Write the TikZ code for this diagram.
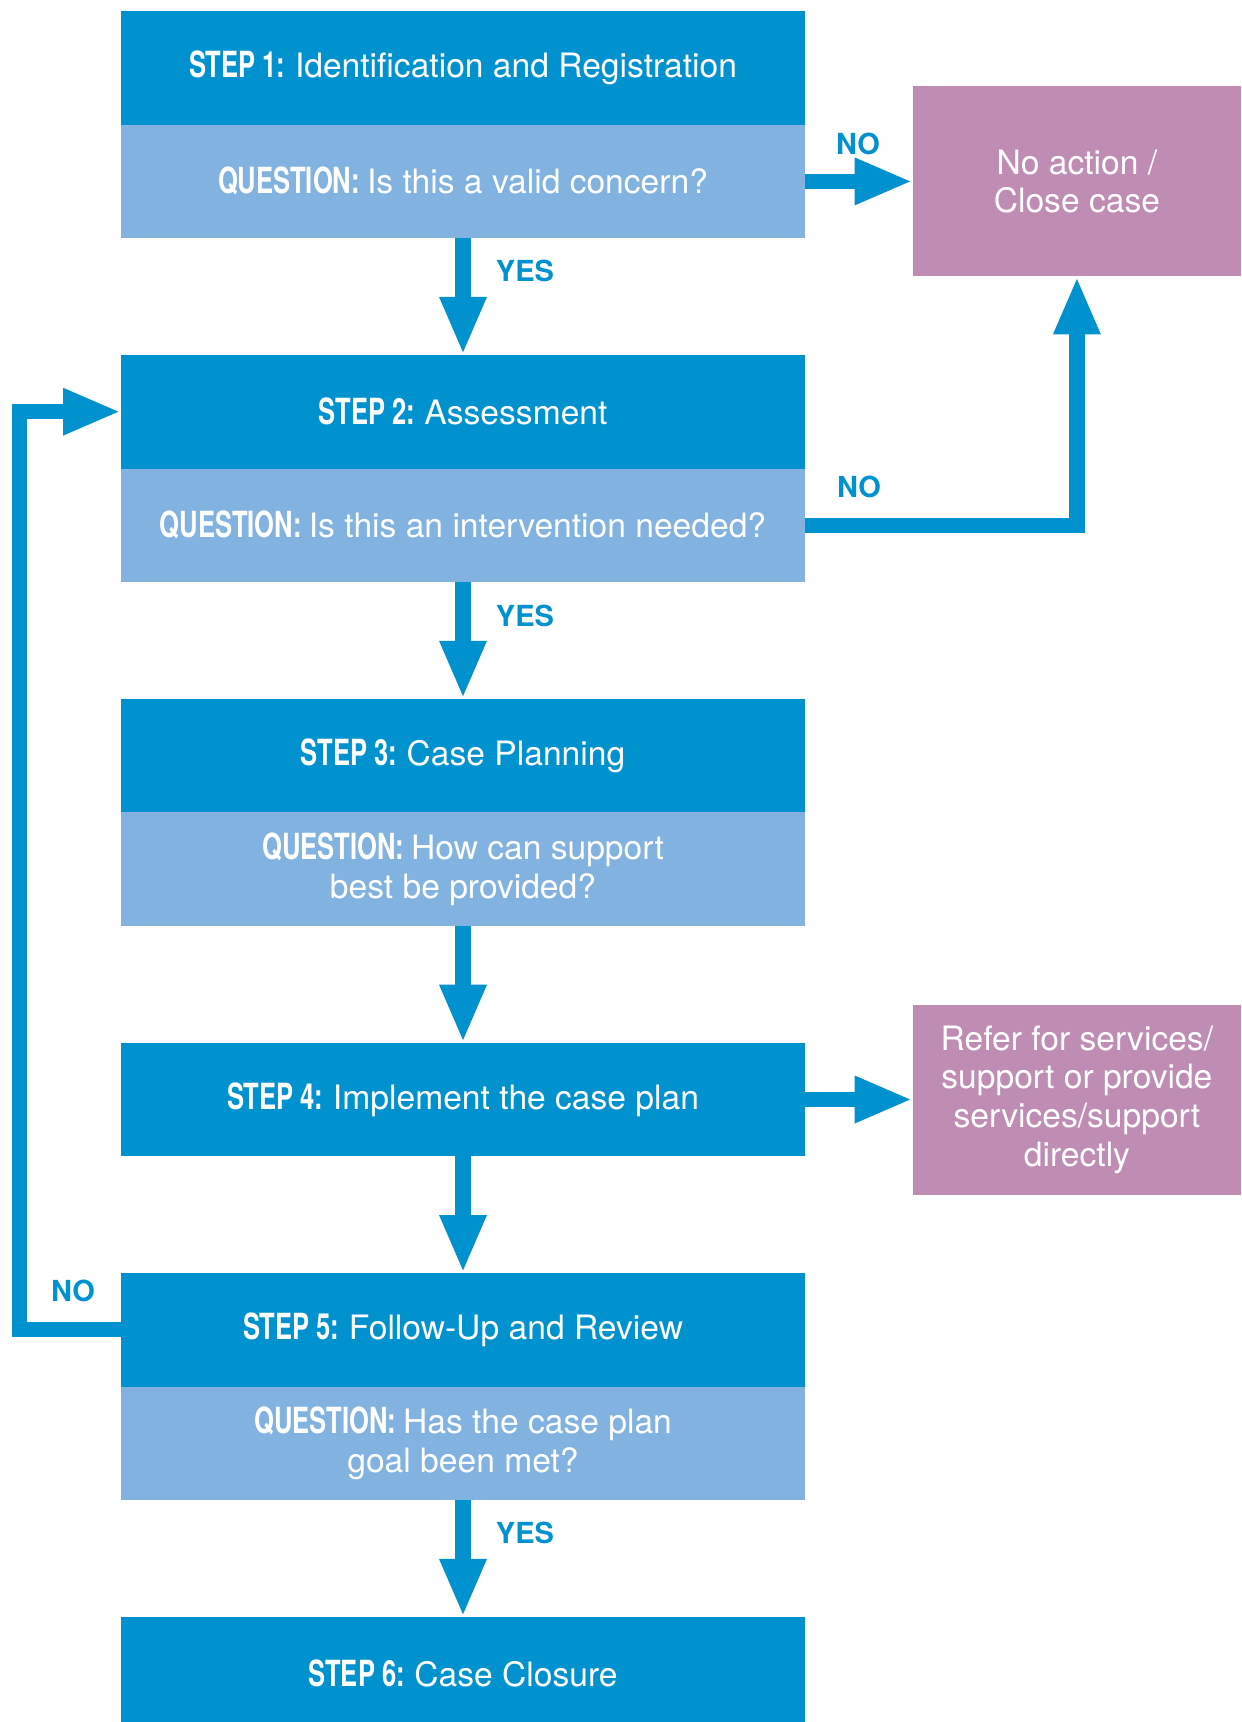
\documentclass[tikz,border=0pt]{standalone}
\usepackage{fontspec}
\setmainfont{TeX Gyre Heros}
\newfontfamily\condfont[FakeStretch=0.71]{TeX Gyre Heros}
\usepackage{tikz}
\usetikzlibrary{calc}
\usetikzlibrary{positioning, arrows.meta}
\definecolor{stepblue}{HTML}{0091CF}
\definecolor{qblue}{HTML}{82B2E0}
\definecolor{casepurple}{HTML}{BF8DB3}
\newcommand{\steplabel}[1]{{\condfont\bfseries\fontsize{18pt}{19.3pt}\selectfont #1 }}
\tikzstyle{stepbox} = [rectangle, 
minimum width=342pt, 
minimum height=56.8pt, 
inner sep=0pt, 
outer sep=0pt, 
align=center, 
text=white, 
fill=stepblue, 
font=\fontsize{16.8pt}{19.3pt}\selectfont]
\tikzstyle{questionbox} = [stepbox, fill=qblue]
\tikzstyle{outcomebox} = [rectangle, 
minimum width=164.2pt, 
minimum height=95pt, 
inner sep=0pt, 
outer sep=0pt, 
align=center, 
text=white, 
fill=casepurple, 
font=\fontsize{16.8pt}{19.3pt}\selectfont]
\tikzstyle{arrow} = [line width=7.6pt, draw=stepblue, -{Triangle[length=29pt, width=21.5pt]}]
\tikzstyle{answer} = [text=stepblue, inner sep=0pt, font=\bfseries\fontsize{14.5pt}{16pt}\selectfont]

\begin{document}
\begin{tikzpicture}[x=0.5pt, y=-0.5pt, node distance=58.35pt]
    \useasboundingbox (0,0) rectangle (1241,1722);

    \node (s1) [stepbox] at (463,67.8) {\steplabel{STEP 1:}Identification and Registration};
    \node (q1) [questionbox, below=0pt of s1] {\steplabel{QUESTION:}Is this a valid concern?};
    \node (s2) [stepbox, below=of q1] {\steplabel{STEP 2:}Assessment};
    \node (q2) [questionbox, below=0pt of s2] {\steplabel{QUESTION:}Is this an intervention needed?};
    \node (s3) [stepbox, below=of q2] {\steplabel{STEP 3:}Case Planning};
    \node (q3) [questionbox, below=0pt of s3] {\steplabel{QUESTION:}How can support\\best be provided?};
    \node (s4) [stepbox, below=of q3] {\steplabel{STEP 4:}Implement the case plan};
    \node (s5) [stepbox, below=of s4] {\steplabel{STEP 5:}Follow-Up and Review};
    \node (q5) [questionbox, below=0pt of s5] {\steplabel{QUESTION:}Has the case plan\\goal been met?};
    \node (s6) [stepbox, below=of q5] {\steplabel{STEP 6:}Case Closure};

    \node (close) [outcomebox, right=53.85pt of q1] {No action /\\Close case};
    \node (refer) [outcomebox, right=53.85pt of s4] {Refer for services/\\support or provide\\services/support\\directly};

    % Main flow
    \draw [arrow] (q1) -- (s2);
    \draw [arrow] (q2) -- (s3);
    \draw [arrow] (q3) -- (s4);
    \draw [arrow] (s4) -- (s5);
    \draw [arrow] (q5) -- (s6);

    % Side exits
    \draw [arrow] (q1.east) -- (close.west);
    \draw [arrow] (q2.east) -| (close.south);
    \draw [arrow] (s4.east) -- (refer.west);

    % Back to assessment
    \draw [arrow] (s5.west) -- ($(s5.west) + (-101.5,0)$) |- (s2.west);

    % Answers
    \node (yes1) [answer] at ($(q1.south) + (62,33)$) {YES};
    \node (yes2) [answer] at ($(q2.south) + (62,34)$) {YES};
    \node (yes5) [answer] at ($(q5.south) + (62,33)$) {YES};
    \node (no1) [answer] at ($(q1.east) + (53,-37.5)$) {NO};
    \node (no2) [answer] at ($(q2.east) + (54,-38)$) {NO};
    \node (no5) [answer] at ($(s5.west) + (-48,-39)$) {NO};
\end{tikzpicture}
\end{document}
